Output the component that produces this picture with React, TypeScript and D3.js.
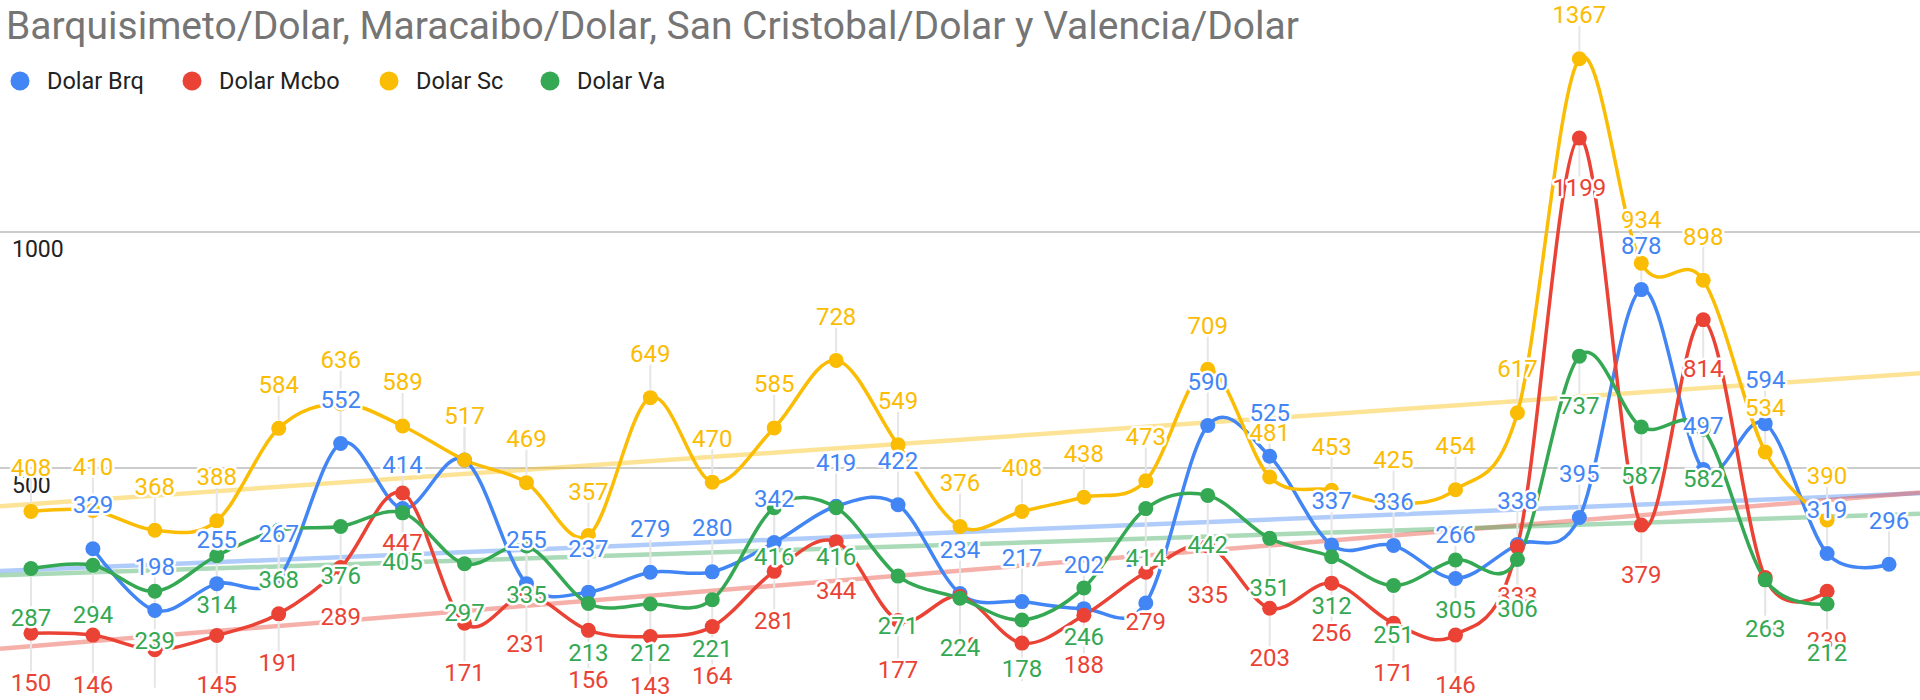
import * as d3 from 'd3';

const W = 1920;
const H = 700;

const title = 'Barquisimeto/Dolar, Maracaibo/Dolar, San Cristobal/Dolar y Valencia/Dolar';

// 31 sampling points, the x axis carries no labels
const periods = [
  1, 2, 3, 4, 5, 6, 7, 8, 9, 10, 11, 12, 13, 14, 15, 16,
  17, 18, 19, 20, 21, 22, 23, 24, 25, 26, 27, 28, 29, 30, 31,
];

const dolarBrq = [
  null, 329, 198, 255, 267, 552, 414, 517, 255, 237, 279, 280, 342, 419, 422, 234,
  217, 202, 214, 590, 525, 337, 336, 266, 338, 395, 878, 497, 594, 319, 296,
];
const dolarMcbo = [
  150, 146, 115, 145, 191, 289, 447, 171, 231, 156, 143, 164, 281, 344, 177, 228,
  129, 188, 279, 335, 203, 256, 171, 146, 333, 1199, 379, 814, 268, 239, null,
];
const dolarSc = [
  408, 410, 368, 388, 584, 636, 589, 517, 469, 357, 649, 470, 585, 728, 549, 376,
  408, 438, 473, 709, 481, 453, 425, 454, 617, 1367, 934, 898, 534, 390, null,
];
const dolarVa = [
  287, 294, 239, 314, 368, 376, 405, 297, 335, 213, 212, 221, 416, 416, 271, 224,
  178, 246, 414, 442, 351, 312, 251, 305, 306, 737, 587, 582, 263, 212, null,
];

const yTicks = [500, 1000];

const series = [
  { name: 'Dolar Brq', values: dolarBrq, color: '#4285f4', above: true, legendX: 20 },
  { name: 'Dolar Mcbo', values: dolarMcbo, color: '#ea4335', above: false, legendX: 192 },
  { name: 'Dolar Sc', values: dolarSc, color: '#fbbc04', above: true, legendX: 389 },
  { name: 'Dolar Va', values: dolarVa, color: '#34a853', above: false, legendX: 550 },
];

const FONT = 'Roboto, "Noto Sans", Arial, sans-serif';

// least squares on the index of each defined value
const trend = (values) => {
  const pts = values.map((v, i) => [i, v]).filter(d => d[1] != null);
  const mx = d3.mean(pts, d => d[0]);
  const my = d3.mean(pts, d => d[1]);
  const sxy = d3.sum(pts, d => (d[0] - mx) * (d[1] - my));
  const sxx = d3.sum(pts, d => (d[0] - mx) ** 2);
  const slope = sxy / sxx;
  return (i) => my + slope * (i - mx);
};

export default function App() {
  const x = d3.scalePoint().domain(periods).range([0, W]).padding(0.5);
  const y = d3.scaleLinear().domain([0, 1500]).range([704, -4]);
  const step = x.step();
  const xi = (i) => x(periods[i]);

  const line = d3
    .line()
    .defined(d => d[1] != null)
    .x(d => xi(d[0]))
    .y(d => y(d[1]))
    .curve(d3.curveCardinal.tension(0));

  const labelY = (s, v) => (s.above ? y(v) - 44 : y(v) + 49);

  return (
    <svg
      width={W}
      height={H}
      viewBox={`0 0 ${W} ${H}`}
      style={{ position: 'absolute', left: 0, top: 0, display: 'block', background: '#fff' }}
      fontFamily={FONT}
    >
      <text x={6} y={39} fontSize={39} fill="#757575">{title}</text>

      {series.map(s => (
        <g key={s.name}>
          <circle cx={s.legendX} cy={81} r={9.5} fill={s.color} />
          <text x={s.legendX + 27} y={89} fontSize={23.5} fill="#222">{s.name}</text>
        </g>
      ))}

      {yTicks.map(t => (
        <g key={t}>
          <line x1={0} x2={W} y1={y(t)} y2={y(t)} stroke="#cccccc" strokeWidth={2} />
          <text x={12} y={y(t) + 25} fontSize={23} fill="#222">{t}</text>
        </g>
      ))}

      {series.map(s => {
        const f = trend(s.values);
        const i0 = -0.5;
        const i1 = periods.length - 0.5;
        return (
          <line
            key={'trend' + s.name}
            x1={xi(0) + i0 * step}
            x2={xi(0) + i1 * step}
            y1={y(f(i0))}
            y2={y(f(i1))}
            stroke={s.color}
            strokeOpacity={0.42}
            strokeWidth={4.5}
          />
        );
      })}

      {series.map(s =>
        s.values.map((v, i) => {
          if (v == null) return null;
          const ly = labelY(s, v);
          const py = y(v);
          return (
            <line
              key={'lead' + s.name + i}
              x1={xi(i)}
              x2={xi(i)}
              y1={s.above ? py - 8 : py + 8}
              y2={s.above ? ly + 11 : ly - 11}
              stroke="#e6e6e6"
              strokeWidth={2}
            />
          );
        })
      )}

      {series.map(s => (
        <path
          key={'line' + s.name}
          d={line(s.values.map((v, i) => [i, v]))}
          fill="none"
          stroke={s.color}
          strokeWidth={3.5}
        />
      ))}

      {series.map(s =>
        s.values.map((v, i) =>
          v == null ? null : (
            <circle key={'pt' + s.name + i} cx={xi(i)} cy={y(v)} r={7.5} fill={s.color} />
          )
        )
      )}

      {series.map(s =>
        s.values.map((v, i) => {
          if (v == null) return null;
          const ly = labelY(s, v);
          // labels that would run past the bottom edge are dropped
          if (ly + 8 > H) return null;
          return (
            <text
              key={'lbl' + s.name + i}
              x={xi(i)}
              y={ly + 8.5}
              textAnchor="middle"
              fontSize={24}
              fill={s.color}
              stroke="#fff"
              strokeWidth={5}
              strokeLinejoin="round"
              paintOrder="stroke"
            >
              {v}
            </text>
          );
        })
      )}
    </svg>
  );
}
